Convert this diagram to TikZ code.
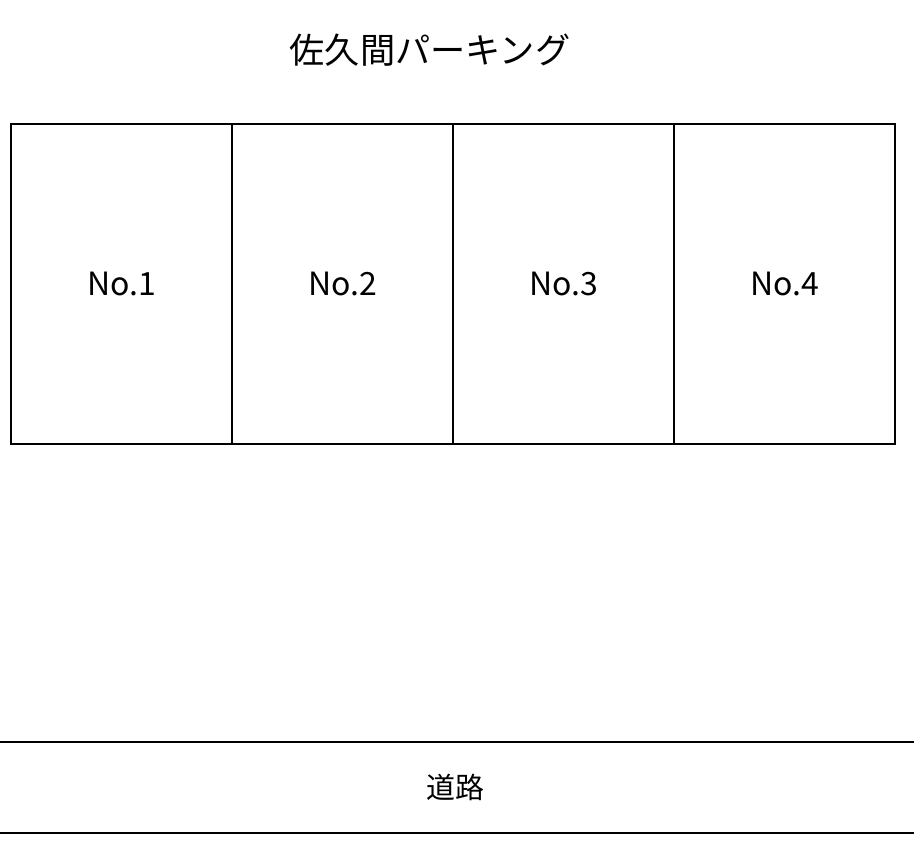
\documentclass[tikz,border=0pt]{standalone}
\usepackage{fontspec}
\setmainfont{Noto Sans CJK JP}
\usetikzlibrary{positioning}
\tikzset{
  stall/.style={draw, line width=1pt, outer sep=0pt, minimum width=110.5pt, minimum height=160pt, font=\fontsize{16}{18}\selectfont},
  road/.style={line width=1pt}
}
\begin{document}
\begin{tikzpicture}[x=0.5pt, y=-0.5pt]
	\useasboundingbox (0,0) rectangle (914,856);
	\node[font=\fontsize{17.6}{20}\selectfont] (title) at (430,50) {佐久間パーキング};
	\node[stall] (s1) at (121.5,284) {No.1};
	\node[stall, right=0pt of s1] (s2) {No.2};
	\node[stall, right=0pt of s2] (s3) {No.3};
	\node[stall, right=0pt of s3] (s4) {No.4};
	% road
	\coordinate (rtl) at (0,742);
	\coordinate (rtr) at (914,742);
	\coordinate (rbl) at (0,833);
	\coordinate (rbr) at (914,833);
	\draw[road] (rtl)--(rtr);
	\draw[road] (rbl)--(rbr);
	\node[font=\fontsize{14.5}{17}\selectfont] (road) at (455,787) {道路};
\end{tikzpicture}
\end{document}
